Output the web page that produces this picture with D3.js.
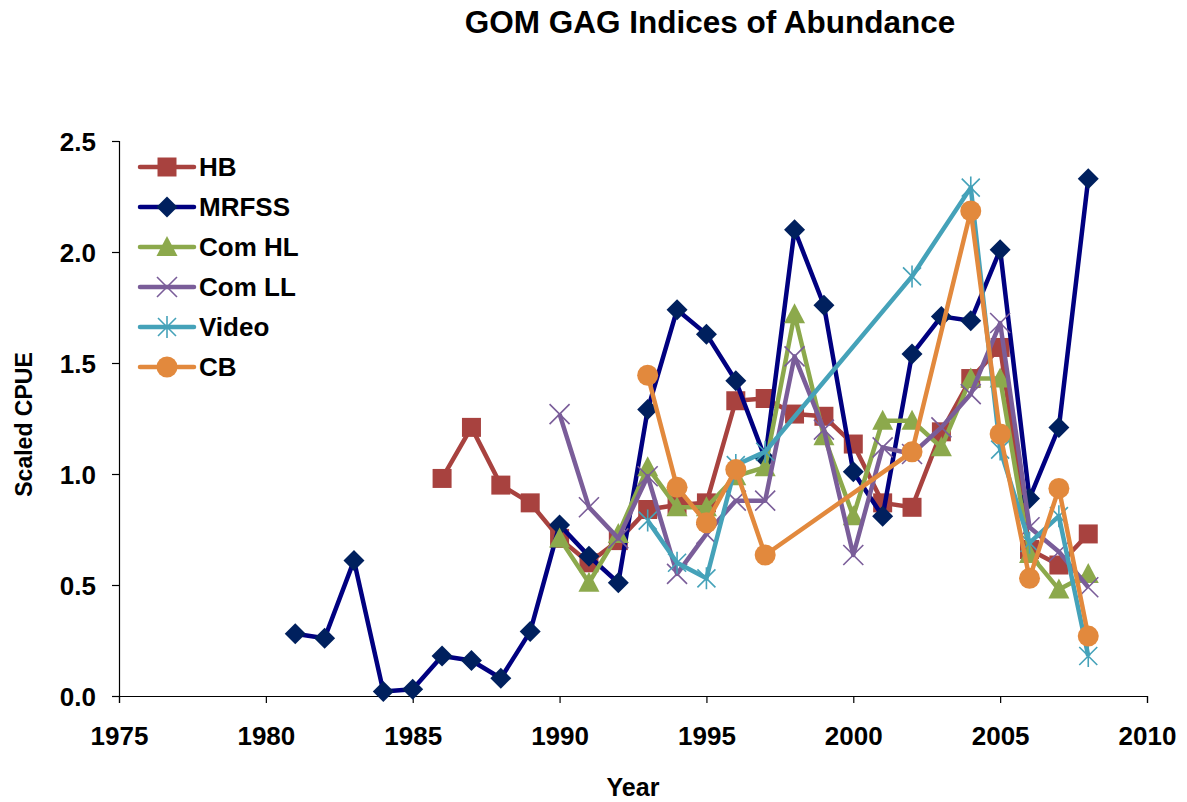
<!DOCTYPE html>
<html>
<head>
<meta charset="utf-8">
<script src="https://cdn.jsdelivr.net/npm/d3@7"></script>
<style>
  html, body { margin: 0; padding: 0; background: #fff; }
  svg { display: block; font-family: "Liberation Sans", Arial, sans-serif; }
</style>
</head>
<body>
<svg id="chart" width="1187" height="802"></svg>
<script>
// ---- data ----
const chartTitle = "GOM GAG Indices of Abundance";
const xTitle = "Year";
const yTitle = "Scaled CPUE";
const xTicks = [1975, 1980, 1985, 1990, 1995, 2000, 2005, 2010];
const yTicks = [0.0, 0.5, 1.0, 1.5, 2.0, 2.5];

const seriesNames = ["HB", "MRFSS", "Com HL", "Com LL", "Video", "CB"];

const hbYears = [1986,1987,1988,1989,1990,1991,1992,1993,1994,1995,1996,1997,1998,1999,2000,2001,2002,2003,2004,2005,2006,2007,2008];
const hbValues = [0.98,1.21,0.95,0.87,0.71,0.60,0.70,0.84,0.86,0.87,1.33,1.34,1.27,1.26,1.135,0.87,0.85,1.19,1.43,1.57,0.66,0.59,0.73];

const mrfssYears = [1981,1982,1983,1984,1985,1986,1987,1988,1989,1990,1991,1992,1993,1994,1995,1996,1997,1998,1999,2000,2001,2002,2003,2004,2005,2006,2007,2008];
const mrfssValues = [0.28,0.26,0.61,0.02,0.03,0.18,0.16,0.08,0.29,0.77,0.63,0.51,1.29,1.74,1.63,1.42,1.07,2.10,1.76,1.01,0.81,1.54,1.71,1.69,2.01,0.89,1.21,2.33];

const comHLYears = [1990,1991,1992,1993,1994,1995,1996,1997,1998,1999,2000,2001,2002,2003,2004,2005,2006,2007,2008];
const comHLValues = [0.71,0.51,0.73,1.03,0.85,0.85,0.99,1.03,1.72,1.17,0.81,1.24,1.24,1.12,1.43,1.43,0.64,0.48,0.55];

const comLLYears = [1990,1991,1992,1993,1994,1995,1996,1997,1998,1999,2000,2001,2002,2003,2004,2005,2006,2007,2008];
const comLLValues = [1.27,0.85,0.71,0.99,0.55,0.73,0.88,0.88,1.53,1.20,0.635,1.12,1.09,1.21,1.36,1.68,0.76,0.65,0.49];

const videoYears = [1993,1994,1995,1996,1997,2002,2004,2005,2006,2007,2008];
const videoValues = [0.79,0.60,0.53,1.04,1.10,1.89,2.29,1.11,0.69,0.81,0.18];

const cbYears = [1993,1994,1995,1996,1997,2002,2004,2005,2006,2007,2008];
const cbValues = [1.445,0.94,0.78,1.02,0.635,1.10,2.185,1.18,0.53,0.935,0.27];

// ---- styles (kept apart from data) ----
const styles = {
  "HB":     {line: "#A8423F", fill: "#A8423F", marker: "square"},
  "MRFSS":  {line: "#000080", fill: "#00205E", marker: "diamond"},
  "Com HL": {line: "#8CA94C", fill: "#8CA94C", marker: "triangle"},
  "Com LL": {line: "#7A5D99", fill: "#7A5D99", marker: "x"},
  "Video":  {line: "#45A2B9", fill: "#45A2B9", marker: "star"},
  "CB":     {line: "#E2893D", fill: "#E2893D", marker: "circle"}
};

const seriesData = [
  {name: "HB", years: hbYears, values: hbValues},
  {name: "MRFSS", years: mrfssYears, values: mrfssValues},
  {name: "Com HL", years: comHLYears, values: comHLValues},
  {name: "Com LL", years: comLLYears, values: comLLValues},
  {name: "Video", years: videoYears, values: videoValues},
  {name: "CB", years: cbYears, values: cbValues}
].map(s => ({name: s.name, points: s.years.map((yr, i) => ({x: yr, y: s.values[i]}))}));

// ---- layout ----
const svg = d3.select("#chart");
const plotLeft = 119, plotRight = 1147, plotTop = 141, plotBottom = 696;

const x = d3.scaleLinear().domain([1975, 2010]).range([plotLeft, plotRight]);
const y = d3.scaleLinear().domain([0, 2.5]).range([plotBottom, plotTop]);

// title
svg.append("text")
  .attr("x", 710).attr("y", 33)
  .attr("text-anchor", "middle")
  .style("font-size", "31.5px").style("font-weight", "bold")
  .text(chartTitle);

// axes
const xAxis = svg.append("g")
  .attr("transform", `translate(0,${plotBottom})`)
  .call(d3.axisBottom(x).tickValues(xTicks).tickFormat(d3.format("d")).tickSizeOuter(0).tickSize(7).tickPadding(24));
const yAxis = svg.append("g")
  .attr("transform", `translate(${plotLeft},0)`)
  .call(d3.axisLeft(y).tickValues(yTicks).tickFormat(d3.format(".1f")).tickSizeOuter(0).tickSize(7).tickPadding(16));

[xAxis, yAxis].forEach(g => {
  g.selectAll("path").attr("stroke", "#000").attr("stroke-width", 1.2);
  g.selectAll("line").attr("stroke", "#000").attr("stroke-width", 1.2);
  g.selectAll("text").attr("fill", "#000")
    .style("font-size", "26px").style("font-weight", "bold")
    .style("font-family", "'Liberation Sans', Arial, sans-serif");
});
yAxis.selectAll("text").attr("dy", "0.36em");

// axis titles
svg.append("text")
  .attr("x", (plotLeft + plotRight) / 2).attr("y", 796)
  .attr("text-anchor", "middle")
  .style("font-size", "25px").style("font-weight", "bold")
  .text(xTitle);
svg.append("text")
  .attr("transform", `translate(32,${(plotTop + plotBottom) / 2 + 6}) rotate(-90)`)
  .attr("text-anchor", "middle")
  .style("font-size", "23px").style("font-weight", "bold")
  .text(yTitle);

// markers
function markerPath(type) {
  switch (type) {
    case "square": return "M-9.5,-9.5H9.5V9.5H-9.5Z";
    case "diamond": return "M0,-10.5L10.5,0L0,10.5L-10.5,0Z";
    case "triangle": return "M0,-11L10.5,9L-10.5,9Z";
    case "circle": return d3.symbol(d3.symbolCircle, Math.PI * 10.5 * 10.5)();
    case "x": return "M-10,-10L10,10M-10,10L10,-10";
    case "star": return "M-9,-9L9,9M-9,9L9,-9M0,-11V11";
  }
}
function drawMarker(sel, st) {
  const stroked = st.marker === "x" || st.marker === "star";
  sel.append("path")
    .attr("d", markerPath(st.marker))
    .attr("fill", stroked ? "none" : st.fill)
    .attr("stroke", stroked ? st.line : "none")
    .attr("stroke-width", stroked ? 1.6 : 0);
}

const line = d3.line().x(d => x(d.x)).y(d => y(d.y));

seriesData.forEach(s => {
  const st = styles[s.name];
  const g = svg.append("g");
  g.append("path")
    .datum(s.points)
    .attr("d", line)
    .attr("fill", "none")
    .attr("stroke", st.line)
    .attr("stroke-width", 4.5)
    .attr("stroke-linejoin", "round");
  g.selectAll("g.pt").data(s.points).enter().append("g")
    .attr("class", "pt")
    .attr("transform", d => `translate(${x(d.x)},${y(d.y)})`)
    .each(function() { drawMarker(d3.select(this), st); });
});

// legend
const legend = svg.append("g");
seriesNames.forEach((name, i) => {
  const st = styles[name];
  const cy = 167 + i * 40;
  const g = legend.append("g").attr("transform", `translate(0,${cy})`);
  g.append("line").attr("x1", 140).attr("x2", 194).attr("y1", 0).attr("y2", 0)
    .attr("stroke", st.line).attr("stroke-width", 4.5).attr("stroke-linecap", "round");
  const m = g.append("g").attr("transform", "translate(167,0)");
  drawMarker(m, st);
  g.append("text").attr("x", 199).attr("y", 9)
    .style("font-size", "26px").style("font-weight", "bold")
    .text(name);
});
</script>
</body>
</html>
